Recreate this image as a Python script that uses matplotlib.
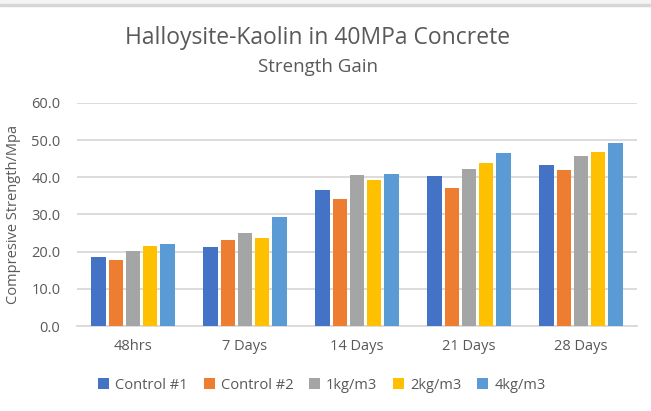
import matplotlib
matplotlib.use('Agg')
import matplotlib.pyplot as plt
from matplotlib.patches import Rectangle
import numpy as np

# values
categories = ['48hrs', '7 Days', '14 Days', '21 Days', '28 Days']
series_names = ['Control #1', 'Control #2', '1kg/m3', '2kg/m3', '4kg/m3']
control1 = [18.6, 21.3, 36.5, 40.3, 43.3]
control2 = [17.7, 23.1, 34.2, 37.1, 42.0]
kg1 = [20.3, 25.0, 40.6, 42.3, 45.8]
kg2 = [21.6, 23.7, 39.3, 43.8, 46.7]
kg4 = [22.0, 29.4, 40.8, 46.5, 49.2]
yticks = [0, 10, 20, 30, 40, 50, 60]

colors = ['#4472C4', '#ED7D31', '#A5A5A5', '#FFC000', '#5B9BD5']
text_col = '#595959'
grid_col = '#D9D9D9'

plt.rcParams['font.family'] = ['Open Sans', 'DejaVu Sans']

fig = plt.figure(figsize=(6.51, 4.11), dpi=100)

# thin grey strip along the top edge (screenshot border)
fig.patches.append(Rectangle((0, 1 - 4 / 411), 1, 4 / 411, transform=fig.transFigure,
                             color='#F4F4F4', zorder=0))
fig.patches.append(Rectangle((0, 1 - 6 / 411), 1, 2 / 411, transform=fig.transFigure,
                             color='#D6D6D6', zorder=0))

ax = fig.add_axes([77 / 651, 1 - 326 / 411, 560 / 651, 223 / 411])

x = np.arange(len(categories))
pitch = 0.154
width = 0.128
all_series = [control1, control2, kg1, kg2, kg4]
for i, vals in enumerate(all_series):
    ax.bar(x + (i - 2) * pitch, vals, width, color=colors[i],
           label=series_names[i], zorder=3)

ax.set_xlim(-0.5, len(categories) - 0.5)
ax.set_ylim(0, 60)
ax.set_yticks(yticks)
ax.set_yticklabels(['%.1f' % v for v in yticks])
ax.set_xticks(x)
ax.set_xticklabels(categories)
ax.tick_params(axis='both', length=0, colors=text_col, labelsize=10.5)
ax.tick_params(axis='x', pad=9)
ax.tick_params(axis='y', pad=12)

ax.grid(axis='y', color=grid_col, linewidth=1.3, zorder=0)
for s in ['top', 'right', 'left']:
    ax.spines[s].set_visible(False)
ax.spines['bottom'].set_color(grid_col)
ax.spines['bottom'].set_linewidth(1.3)

ax.set_ylabel('Compresive Strength/Mpa', color=text_col, fontsize=10.5, labelpad=7)

fig.text(318 / 651, 1 - 38 / 411, 'Halloysite-Kaolin in 40MPa Concrete',
         ha='center', va='center', fontsize=16.5, color=text_col)
fig.text(318 / 651, 1 - 67 / 411, 'Strength Gain',
         ha='center', va='center', fontsize=13.5, color=text_col)

fig.legend(loc='center', bbox_to_anchor=(322 / 651, 1 - 385 / 411), ncol=5,
           frameon=False, fontsize=10.5, labelcolor=text_col,
           handlelength=0.75, handleheight=0.75, handletextpad=0.4,
           columnspacing=1.1)

fig.savefig('out.png', dpi=100)
